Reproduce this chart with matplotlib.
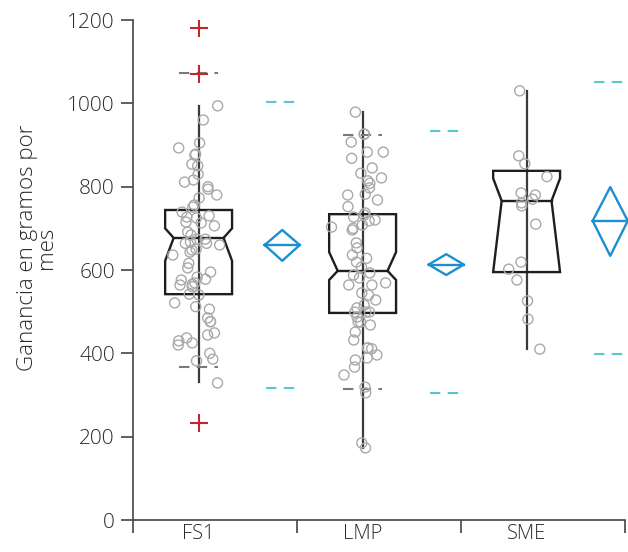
import numpy as np
import matplotlib
matplotlib.use("Agg")
import matplotlib.pyplot as plt
from matplotlib.patches import Polygon

plt.rcParams['font.family'] = ['Open Sans', 'DejaVu Sans']

categories = ["FS1", "LMP", "SME"]

fs1_values = [994, 960, 905, 893, 878, 876, 850, 854, 830, 816, 811, 794, 800, 780, 773,
              756, 751, 739, 730, 727, 715, 725, 706, 713, 691, 684, 674, 674, 667,
              650, 664, 660, 664, 648, 643, 636, 616, 605, 595, 583, 576, 578, 569, 564,
              566, 560, 542, 540, 521, 512, 506, 485, 476, 476, 449, 437, 444, 430, 425,
              420, 400, 386, 382, 329]
lmp_values = [979, 926, 926, 907, 883, 883, 868, 845, 832, 821, 814, 808, 797, 782, 780,
              768, 752, 737, 718, 727, 732, 720, 708, 700,
              703, 696, 665, 653, 636, 628, 619, 607, 593, 588, 581, 569, 564, 564, 545,
              540, 528, 516, 509, 499, 499, 499, 487, 475, 475, 468, 451,
              413, 411, 413, 432, 396, 384, 389, 367, 348, 319, 305, 185, 173]
sme_values = [1030, 874, 855, 824, 780, 785, 770, 761, 754, 710, 619, 602, 576, 526, 482, 410]
series_values = [fs1_values, lmp_values, sme_values]

# box statistics: q1, median, q3, notch low, notch high, whisker low, whisker high
q1 = [542, 497, 595]
median = [677, 598, 766]
q3 = [744, 734, 838]
notch_lo = [622, 576, 595]
notch_hi = [700, 643, 820]
whisker_lo = [331, 173, 410]
whisker_hi = [994, 979, 1030]

outliers = [[1180, 1070, 232], [], []]

grey_lines = [[367, 1072], [314, 924], []]
cyan_lines = [[316, 1003], [305, 934], [398, 1051]]

means = [660, 613, 718]
mean_ci_lo = [622, 588, 634]
mean_ci_hi = [696, 638, 799]

yticks = [0, 200, 400, 600, 800, 1000, 1200]
ylabel = "Ganancia en gramos por\nmes"

fig = plt.figure(figsize=(6.28, 5.52), dpi=100)
ax = fig.add_axes([133 / 628, 1 - 520 / 552, (625 - 133) / 628, 500 / 552])

box_off = 0.40
dia_off = 0.91
box_hw = 0.204
notch_hw = 0.152
dia_hw = 0.107
line_hw = 0.098
grey_hw = 0.12

rng = np.random.RandomState(3)
box_color = '#1e1e1e'
for i, vals in enumerate(series_values):
    xc = i + box_off
    # whisker
    ax.plot([xc, xc], [whisker_lo[i], whisker_hi[i]], color='#3a3a3a', lw=1.6, zorder=2)
    # notched box
    lo = max(notch_lo[i], q1[i])
    hi = min(notch_hi[i], q3[i])
    L, R = xc - box_hw, xc + box_hw
    nL, nR = xc - notch_hw, xc + notch_hw
    pts = [(L, q1[i]), (L, lo), (nL, median[i]), (L, hi), (L, q3[i]),
           (R, q3[i]), (R, hi), (nR, median[i]), (R, lo), (R, q1[i])]
    ax.add_patch(Polygon(pts, closed=True, fill=False, edgecolor=box_color, lw=1.7,
                         joinstyle='miter', zorder=3))
    ax.plot([nL, nR], [median[i], median[i]], color=box_color, lw=1.7, zorder=3)
    # points
    jit = np.clip(rng.normal(0, 0.065, len(vals)), -0.2, 0.2)
    ax.scatter(xc + jit, vals, s=52, facecolors='none', edgecolors='#a9a9a9',
               linewidths=1.0, zorder=4)
    # outliers
    if outliers[i]:
        ax.scatter([xc] * len(outliers[i]), outliers[i], marker='+', s=150,
                   color='#c1272d', linewidths=1.5, zorder=5)
    # grey dashed lines
    for v in grey_lines[i]:
        ax.plot([xc - grey_hw, xc + grey_hw], [v, v], color='#7a7a7a', lw=1.5,
                linestyle=(0, (5, 3.5)), zorder=2)
    # cyan dashed lines
    xd = i + dia_off
    for v in cyan_lines[i]:
        ax.plot([xd - line_hw, xd + line_hw], [v, v], color='#5cc6d0', lw=1.5,
                linestyle=(0, (5, 3.5)), zorder=2, clip_on=False)
    # mean diamond
    dx = [xd - dia_hw, xd, xd + dia_hw, xd, xd - dia_hw]
    dy = [means[i], mean_ci_hi[i], means[i], mean_ci_lo[i], means[i]]
    ax.plot(dx, dy, color='#1b8fcf', lw=1.7, zorder=3, clip_on=False)
    ax.plot([xd - dia_hw, xd + dia_hw], [means[i], means[i]], color='#1b8fcf', lw=1.7,
            zorder=3, clip_on=False)

txt_color = '#2b2b2b'
ax.set_xlim(0, 3)
ax.set_ylim(0, 1200)
ax.set_yticks(yticks)
ax.set_yticklabels([str(t) for t in yticks], fontsize=15, fontweight='light', color=txt_color)
ax.set_xticks([0, 1, 2, 3])
ax.set_xticklabels([])
ax.set_xticks([i + box_off for i in range(3)], minor=True)
ax.set_xticklabels(categories, minor=True, fontsize=14.5, fontweight='light', color=txt_color)
ax.tick_params(axis='x', which='minor', length=0, pad=3)
ax.tick_params(axis='x', which='major', length=9, width=1.2, color='#444444', direction='out')
ax.tick_params(axis='y', length=9, width=1.2, color='#444444', pad=4)
for s in ['top', 'right']:
    ax.spines[s].set_visible(False)
for s in ['left', 'bottom']:
    ax.spines[s].set_color('#444444')
    ax.spines[s].set_linewidth(1.2)
ax.set_ylabel(ylabel, fontsize=16, fontweight='light', color=txt_color, labelpad=14,
              linespacing=0.85)
ax.yaxis.set_label_coords(-0.155, 0.545)

fig.savefig('out.png', dpi=100)
